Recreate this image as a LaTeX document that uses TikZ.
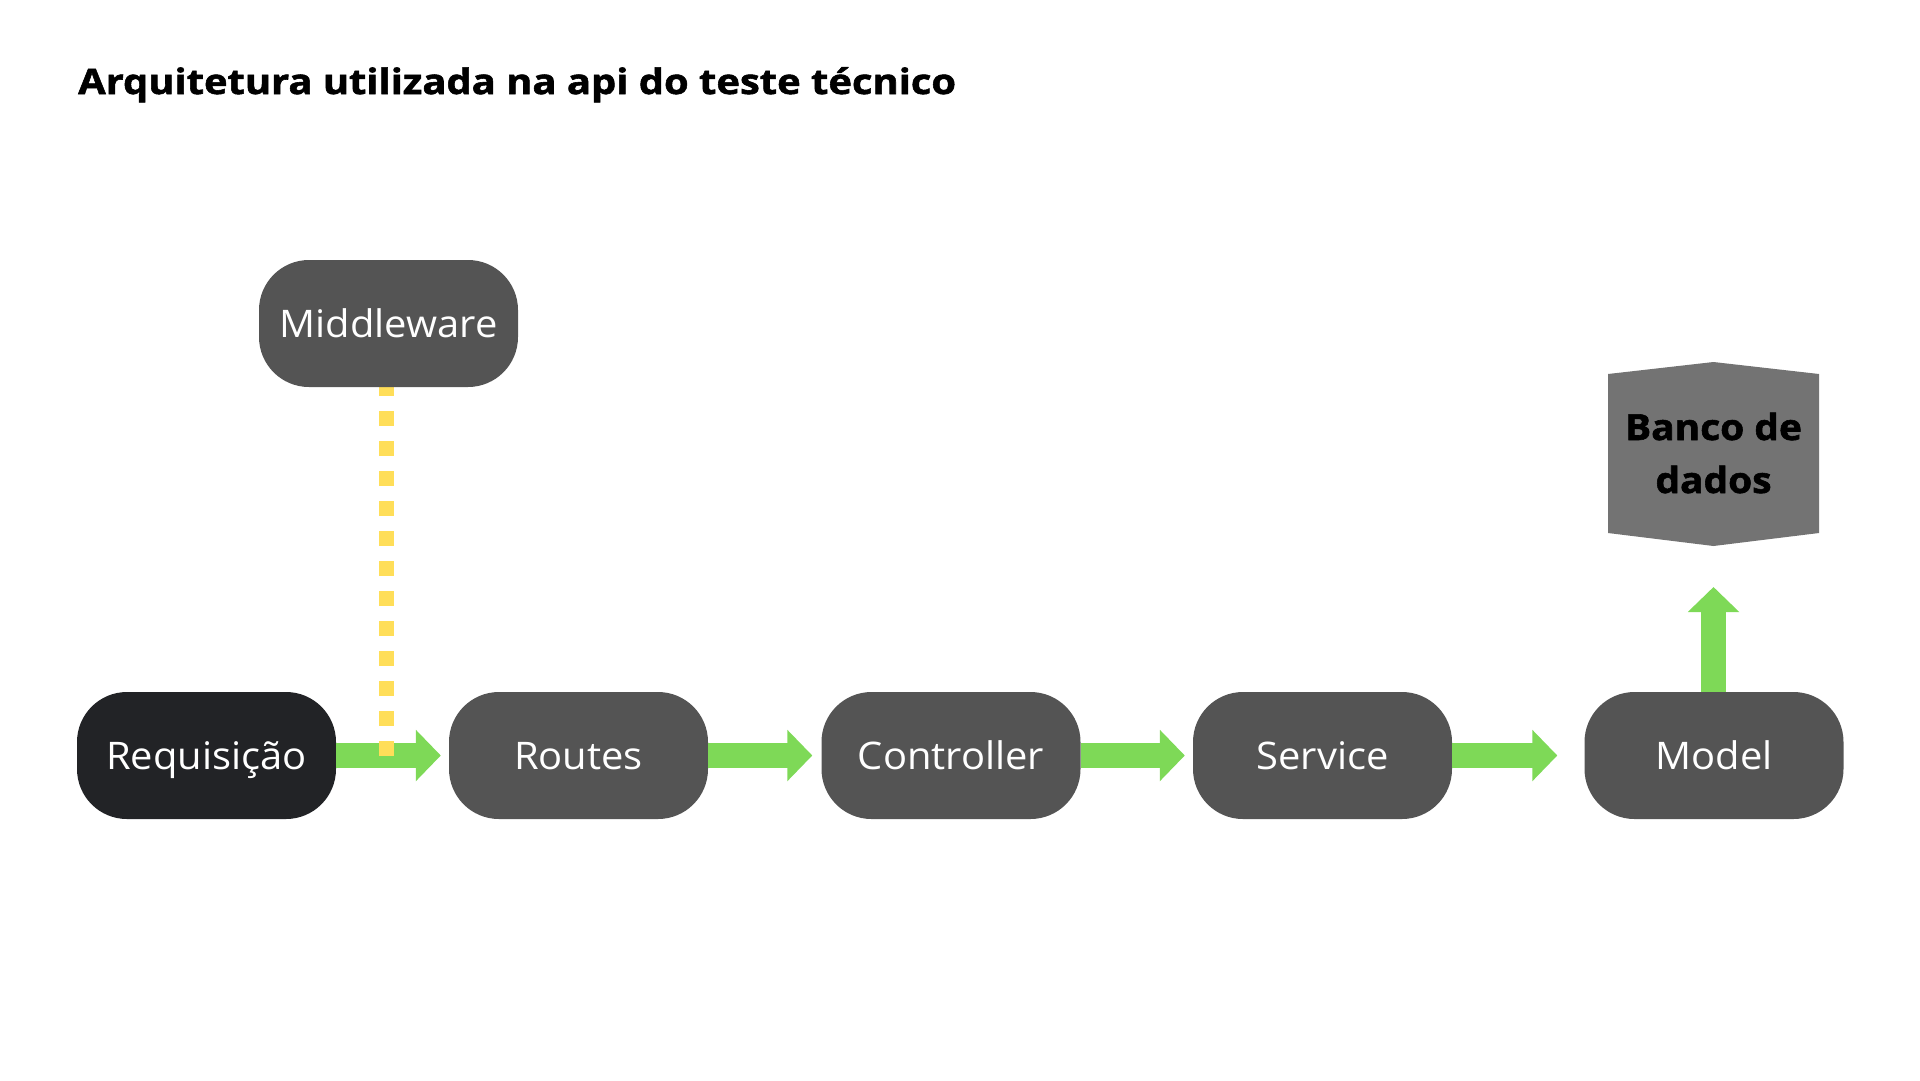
\documentclass[tikz,border=0pt]{standalone}
\usepackage{fontspec}
\setmainfont{Open Sans}
\newfontfamily\boxfont[FakeStretch=1.05]{Open Sans}
\newfontfamily\titlefont[FakeStretch=1.14, BoldFeatures={FakeBold=1.6}]{Open Sans}
\newfontfamily\dbfont[FakeStretch=1.08, BoldFeatures={FakeBold=1.6}]{Open Sans}
\usetikzlibrary{arrows.meta}
\definecolor{boxgray}{HTML}{545454}
\definecolor{reqdark}{HTML}{222326}
\definecolor{dbgray}{HTML}{737373}
\definecolor{arrgreen}{HTML}{7ED957}
\definecolor{dotyellow}{HTML}{FFDE59}
\tikzset{
  stepbox/.style={fill=boxgray, text=white, rounded corners=50pt, minimum width=259pt,
    minimum height=127pt, inner sep=0pt, text height=27pt, text depth=0pt,
    font=\boxfont\fontsize{38}{44}\selectfont},
  reqbox/.style={stepbox, fill=reqdark},
  flow/.style={arrgreen, line width=25pt, -{Triangle[length=25pt 0 0, width=50pt 0 0]}},
  dots/.style={dotyellow, line width=15pt, dash pattern=on 15pt off 15pt},
  dbshape/.style={fill=dbgray},
}
\begin{document}
\begin{tikzpicture}[x=1pt, y=-1pt]
\useasboundingbox (0,0) rectangle (1920,1080);
% title
\node[anchor=base west, inner sep=0pt, font=\titlefont\fontsize{35}{42}\selectfont\bfseries] (title) at (78,94) {Arquitetura utilizada na api do teste técnico};
% boxes
\node[reqbox] (req) at (206.5,755.5) {Requisição};
\node[stepbox] (routes) at (578.5,755.5) {Routes};
\node[stepbox] (ctrl) at (951,755.5) {Controller};
\node[stepbox] (serv) at (1322.5,755.5) {Service};
\node[stepbox] (model) at (1714,755.5) {Model};
% database
\fill[dbshape] (1608,374) -- (1713.5,362) -- (1819,374) -- (1819,533) -- (1713.5,546) -- (1608,533) -- cycle;
\node[inner sep=0pt, align=center, font=\dbfont\fontsize{36}{53}\selectfont\bfseries] (db) at (1713.5,453) {Banco de\\dados};
\coordinate (dbbottom) at (1713.5,546);
% arrows
\draw[flow, shorten >=8pt] (req.east) -- (routes.west);
\draw[flow, shorten >=9pt] (routes.east) -- (ctrl.west);
\draw[flow, shorten >=8pt] (ctrl.east) -- (serv.west);
\draw[flow, shorten >=27pt] (serv.east) -- (model.west);
\draw[flow, shorten >=41pt] (model.north -| dbbottom) -- (dbbottom);
% middleware dotted link
\coordinate (dotend) at (386.5,756);
\draw[dots] (dotend) -- (dotend |- 0,387);
\node[stepbox] (mid) at (388.5,323.5) {Middleware};
\end{tikzpicture}
\end{document}
